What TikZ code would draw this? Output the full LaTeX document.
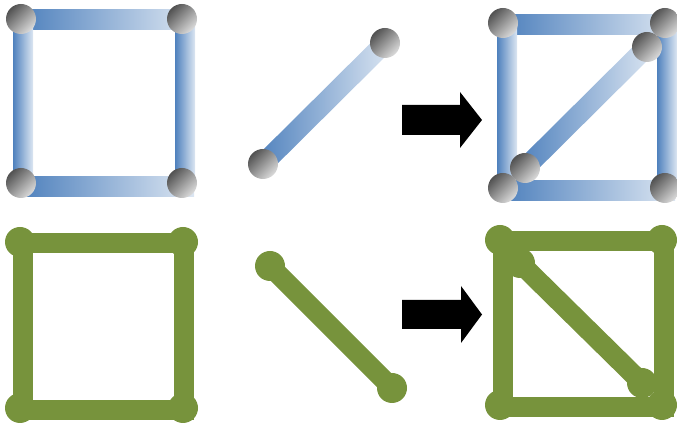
\documentclass[tikz,border=0pt]{standalone}
\usepackage{tikz}
\usetikzlibrary{arrows,positioning}
\definecolor{barblue}{HTML}{4F81BD}
\definecolor{barlight}{HTML}{DCE6F2}
\definecolor{leafgreen}{HTML}{77933C}
\tikzset{
  ball/.style={top color=black!68, bottom color=black!14, shading angle=45},
  bluebar/.style={left color=barblue, right color=barlight},
  greenbar/.style={draw=leafgreen, line width=20pt},
  greenball/.style={fill=leafgreen},
}
\begin{document}
\begin{tikzpicture}[x=1pt, y=1pt]
\useasboundingbox (0,0) rectangle (677,427);

%\draw [help lines, step=10pt](0,0) grid (677,427);
% blue square
\shade [bluebar] (21,397) rectangle (194,417);
\shade [bluebar] (13,244) rectangle (33,408);
\shade [bluebar] (175,244) rectangle (195,408);
\shade [bluebar] (21,230) rectangle (194,250);
\shade [ball] (21,408) circle (15);
\shade [ball] (182,408) circle (15);
\shade [ball] (21,244) circle (15);
\shade [ball] (182,244) circle (15);

% blue link
\begin{scope}[shift={(263,263)}, rotate=44.8]
\shade [bluebar] (0,-10) rectangle (172,10);
\end{scope}
\shade [ball] (263,263) circle (15);
\shade [ball] (385,384) circle (15);

% blue result
\shade [bluebar] (503,392) rectangle (675,412);
\shade [bluebar] (497,239) rectangle (517,404);
\shade [bluebar] (657,239) rectangle (677,404);
\shade [bluebar] (503,226) rectangle (675,246);
\shade [ball] (503,404) circle (15);
\shade [ball] (665,404) circle (15);
\shade [ball] (503,239) circle (15);
\shade [ball] (665,239) circle (15);
\begin{scope}[shift={(525,259)}, rotate=44.8]
\shade [bluebar] (0,-10) rectangle (172,10);
\end{scope}
\shade [ball] (525,259) circle (15);
\shade [ball] (647,380) circle (15);

% arrows
\fill [black] (402,292) -- (460,292) -- (460,279) -- (482,307) -- (460,335) -- (460,322) -- (402,322) -- cycle;
\fill [black] (402,98) -- (461,98) -- (461,84) -- (482,112.5) -- (461,141) -- (461,127) -- (402,127) -- cycle;

% green square
\coordinate (g1) at (20,185);
\coordinate (g2) at (183,185);
\coordinate (g3) at (20,19);
\coordinate (g4) at (183,19);
\draw [greenbar] (23,184) rectangle (184,17);
\foreach \p in {g1,g2,g3,g4} \fill [greenball] (\p) circle (15);

% green link
\coordinate (gl1) at (270,161);
\coordinate (gl2) at (392,39);
\draw [greenbar] (gl1) -- (gl2);
\fill [greenball] (gl1) circle (15);
\fill [greenball] (gl2) circle (15);

% green result
\coordinate (h1) at (500,187);
\coordinate (h2) at (662,187);
\coordinate (h3) at (500,22);
\coordinate (h4) at (662,22);
\coordinate (hl1) at (520,164);
\coordinate (hl2) at (642,44);
\draw [greenbar] (503,186) rectangle (664,20);
\foreach \p in {h1,h2,h3,h4} \fill [greenball] (\p) circle (15);
\draw [greenbar] (hl1) -- (hl2);
\fill [greenball] (hl1) circle (15);
\fill [greenball] (hl2) circle (15);

\end{tikzpicture}
\end{document}
